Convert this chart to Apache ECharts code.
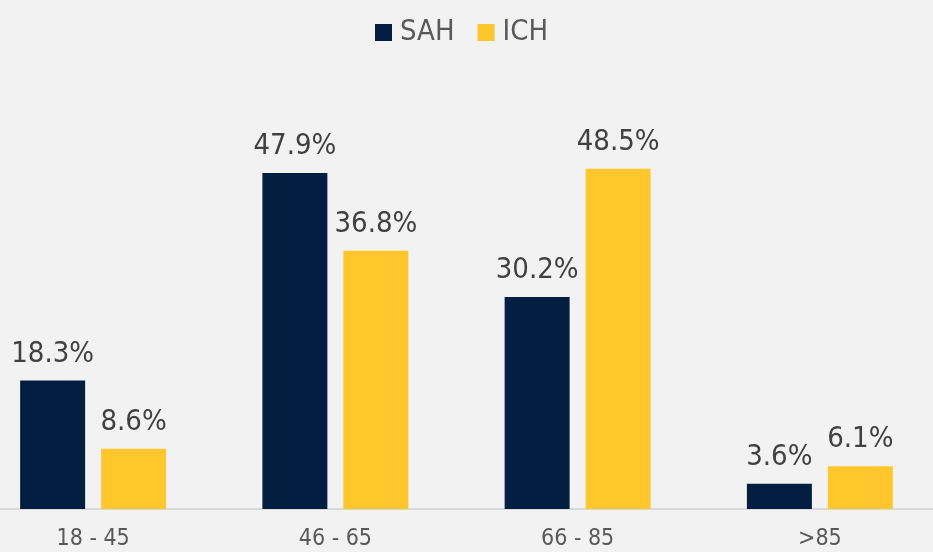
<!DOCTYPE html>
<html>
<head>
<meta charset="utf-8">
<script src="https://cdn.jsdelivr.net/npm/echarts@6/dist/echarts.min.js"></script>
<style>
html,body{margin:0;padding:0;background:#f2f2f2;overflow:hidden;width:933px;height:552px;}
#c{width:969px;height:552px;margin-left:-28px;}
</style>
</head>
<body>
<div id="c"></div>
<script>
const categories = ['18 - 45', '46 - 65', '66 - 85', '>85'];
const sahValues = [18.3, 47.9, 30.2, 3.6];
const ichValues = [8.6, 36.8, 48.5, 6.1];
const seriesNames = ['SAH', 'ICH'];

const FONT = '"DejaVu Sans Condensed", "DejaVu Sans", sans-serif';
const chart = echarts.init(document.getElementById('c'), null, {renderer: 'canvas'});
const labelCfg = {
  show: true,
  position: 'top',
  distance: 12,
  fontFamily: FONT,
  fontSize: 29,
  color: '#404040',
  formatter: p => p.value.toFixed(1) + '%'
};
chart.setOption({
  backgroundColor: '#f2f2f2',
  animation: false,
  legend: {
    top: 13,
    left: 398,
    icon: 'rect',
    itemWidth: 17,
    itemHeight: 17,
    itemGap: 23,
    textStyle: {fontFamily: FONT, fontSize: 29, color: '#595959', padding: [0, 0, 0, 3]},
    data: seriesNames
  },
  grid: {left: 0, right: 0, top: 88, bottom: 43, containLabel: false},
  xAxis: {
    type: 'category',
    data: categories,
    axisLine: {lineStyle: {color: '#d9d9d9', width: 2}},
    axisTick: {show: false},
    axisLabel: {fontFamily: FONT, fontSize: 23, color: '#595959', margin: 19}
  },
  yAxis: {
    type: 'value',
    min: 0,
    max: 60,
    show: false,
    splitLine: {show: false}
  },
  series: [
    {name: seriesNames[0], type: 'bar', data: sahValues, barWidth: 65, barGap: '24.6%',
     itemStyle: {color: '#041e42'}, label: labelCfg},
    {name: seriesNames[1], type: 'bar', data: ichValues, barWidth: 65,
     itemStyle: {color: '#ffc72c'}, label: labelCfg}
  ]
});
</script>
</body>
</html>
